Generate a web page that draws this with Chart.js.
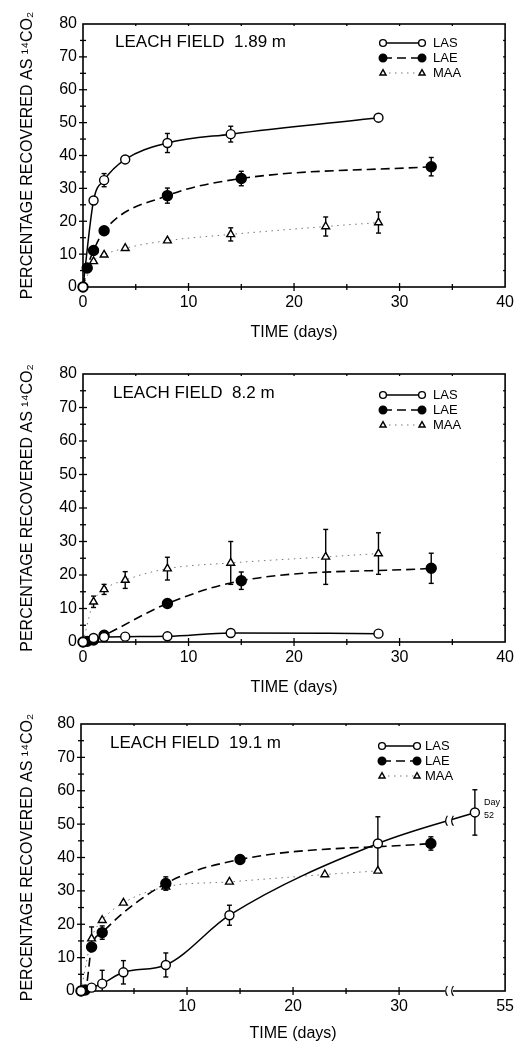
<!DOCTYPE html>
<html><head><meta charset="utf-8">
<script src="https://cdn.jsdelivr.net/npm/chart.js@4/dist/chart.umd.min.js"></script>
<style>
body{margin:0;background:#fff;width:520px;height:1044px;position:relative;overflow:hidden}
canvas{position:absolute;left:0}
</style></head>
<body>
<canvas id="c1" width="520" height="345" style="top:0px"></canvas>
<canvas id="c2" width="520" height="355" style="top:345px"></canvas>
<canvas id="c3" width="520" height="354" style="top:690px"></canvas>
<script>
// ---------- DATA ----------
const seriesNames = ['LAS', 'LAE', 'MAA'];
const yTitle = 'PERCENTAGE RECOVERED AS ¹⁴CO₂';
const xTitle = 'TIME (days)';
const panelTitles = ['LEACH FIELD  1.89 m', 'LEACH FIELD  8.2 m', 'LEACH FIELD  19.1 m'];

// Panel 1 — 1.89 m
const p1LasDays = [0, 1, 2, 4, 8, 14, 28];
const p1LasPct  = [0, 26.3, 32.5, 38.8, 43.8, 46.5, 51.5];
const p1LasErr  = [0, 0, 2, 0, 2.9, 2.4, 0];
const p1LaeDays = [0, 0.4, 1, 2, 8, 15, 33];
const p1LaePct  = [0, 5.8, 11.1, 17.1, 27.8, 33, 36.6];
const p1LaeErr  = [0, 0, 0, 0, 2.3, 2.2, 2.8];
const p1MaaDays = [0, 1, 2, 4, 8, 14, 23, 28];
const p1MaaPct  = [0, 7.8, 9.8, 11.8, 14.1, 16, 18.4, 19.6];
const p1MaaErr  = [0, 0, 0, 0, 0, 2, 2.9, 3.2];

// Panel 2 — 8.2 m
const p2LasDays = [0, 1, 2, 4, 8, 14, 28];
const p2LasPct  = [0, 1.2, 1.5, 1.6, 1.7, 2.7, 2.5];
const p2LasErr  = [0, 0, 0, 0, 0, 0, 0];
const p2LaeDays = [0, 0.4, 1, 2, 8, 15, 33];
const p2LaePct  = [0, 0.2, 0.6, 2.0, 11.5, 18.3, 22];
const p2LaeErr  = [0, 0, 0, 0, 0, 2.6, 4.5];
const p2MaaDays = [0, 1, 2, 4, 8, 14, 23, 28];
const p2MaaPct  = [0, 12, 15.7, 18.5, 21.9, 23.6, 25.4, 26.4];
const p2MaaErr  = [0, 1.7, 1.5, 2.5, 3.4, 6.4, 8.2, 6.2];

// Panel 3 — 19.1 m (x axis broken after day 35; last label is day 55)
const p3LasDays = [0, 1, 2, 4, 8, 14, 28, 52];
const p3LasPct  = [0, 1.0, 2.2, 5.6, 7.8, 22.7, 44.2, 53.5];
const p3LasErr  = [0, 0, 4, 3.5, 3.6, 3, 8, 6.8];
const p3LaeDays = [0, 0.4, 1, 2, 8, 15, 33];
const p3LaePct  = [0, 0.3, 13.2, 17.5, 32.2, 39.4, 44.2];
const p3LaeErr  = [0, 0, 0, 2, 2, 0, 2];
const p3MaaDays = [0, 1, 2, 4, 8, 14, 23, 28];
const p3MaaPct  = [0, 15.7, 21.2, 26.4, 31.2, 32.7, 34.9, 36];
const p3MaaErr  = [0, 3.5, 0, 0, 0, 0, 0, 0];

const xTickVals12 = [0, 10, 20, 30, 40];
const xTickText12 = ['0', '10', '20', '30', '40'];
const xTickVals3  = [0, 10, 20, 30, 40];
const xTickText3  = ['', '10', '20', '30', '55'];
const yTickVals   = [0, 10, 20, 30, 40, 50, 60, 70, 80];

// ---------- RENDERING ----------
const FONT = "'Liberation Sans', Arial, Helvetica, sans-serif";
// axis position for the broken axis of panel 3 (days beyond 35 compressed)
const p3Pos = d => d <= 35 ? d : 40 - (55 - d) * 0.95;
const p3BreakPos = 34.7;

const styles = {
  LAS: {borderColor:'#000', borderWidth:1.5, borderDash:[], pointStyle:'circle', pointRadius:4.5, pointBackgroundColor:'#fff', kind:'open'},
  LAE: {borderColor:'#000', borderWidth:1.6, borderDash:[9,5], pointStyle:'circle', pointRadius:5, pointBackgroundColor:'#000', kind:'filled'},
  MAA: {borderColor:'#777', borderWidth:1, borderDash:[1.5,4.5], pointStyle:'triangle', pointRadius:4.5, pointBackgroundColor:'#fff', kind:'tri'}
};

function drawMarker(ctx, kind, x, y, r) {
  ctx.save();
  ctx.setLineDash([]);
  ctx.lineWidth = 1.4; ctx.strokeStyle = '#000';
  ctx.beginPath();
  if (kind === 'tri') {
    ctx.moveTo(x, y - r); ctx.lineTo(x + r * 0.9, y + r * 0.6); ctx.lineTo(x - r * 0.9, y + r * 0.6); ctx.closePath();
    ctx.fillStyle = '#fff';
  } else {
    ctx.arc(x, y, r, 0, Math.PI * 2);
    ctx.fillStyle = kind === 'filled' ? '#000' : '#fff';
  }
  ctx.fill(); ctx.stroke(); ctx.restore();
}

function line(ctx, x1, y1, x2, y2) { ctx.beginPath(); ctx.moveTo(x1, y1); ctx.lineTo(x2, y2); ctx.stroke(); }

const panelPlugin = {
  id: 'panelDeco',
  beforeDatasetsDraw(chart) {
    const P = chart.config.options.plugins.panelDeco;
    const ctx = chart.ctx, a = chart.chartArea, xs = chart.scales.x, ys = chart.scales.y;
    ctx.save();
    ctx.strokeStyle = '#000'; ctx.setLineDash([]);
    // frame
    ctx.lineWidth = 1.6;
    ctx.strokeRect(a.left, a.top, a.right - a.left, a.bottom - a.top);
    // ticks crossing left & bottom axes, small inward ticks on top & right
    ctx.lineWidth = 1.3;
    for (let v = 5; v < 80; v += 5) {
      const py = ys.getPixelForValue(v), L = v % 10 === 0 ? 4 : 3;
      line(ctx, a.left - L, py, a.left + L, py);
      line(ctx, a.right - 2, py, a.right, py);
    }
    for (let v = 5; v < 40; v += 5) {
      if (P.broken && v === 35) continue;
      const px = xs.getPixelForValue(v), L = v % 10 === 0 ? 4 : 3;
      line(ctx, px, a.bottom - L, px, a.bottom + L);
      line(ctx, px, a.top, px, a.top + 2);
    }
    // error bars
    chart.data.datasets.forEach((ds, i) => {
      const meta = chart.getDatasetMeta(i);
      ds.errors.forEach((e, j) => {
        if (!e) return;
        const v = ds.data[j].y, px = meta.data[j].x;
        const yt = ys.getPixelForValue(v + e), yb = ys.getPixelForValue(Math.max(0, v - e));
        ctx.lineWidth = 1.4;
        line(ctx, px, yt, px, yb);
        line(ctx, px - 2.5, yt, px + 2.5, yt);
        if (v - e > 0) line(ctx, px - 2.5, yb, px + 2.5, yb);
      });
    });
    ctx.restore();
  },
  afterDatasetsDraw(chart) {
    const P = chart.config.options.plugins.panelDeco;
    const ctx = chart.ctx, a = chart.chartArea, xs = chart.scales.x, ys = chart.scales.y;
    ctx.save();
    // panel label
    ctx.fillStyle = '#000';
    ctx.font = '17px ' + FONT;
    ctx.textBaseline = 'middle'; ctx.textAlign = 'left';
    ctx.fillText(P.title, a.left + P.titleDx, a.top + P.titleDy);
    // legend
    chart.data.datasets.forEach((ds, i) => {
      const y = a.top + P.legDy + i * P.legStep;
      const x1 = a.left + P.legX1, x2 = a.left + P.legX2;
      ctx.strokeStyle = ds.borderColor; ctx.lineWidth = ds.borderWidth;
      ctx.setLineDash(ds.borderDash);
      line(ctx, x1, y, x2, y);
      ctx.setLineDash([]);
      drawMarker(ctx, ds.kind, x1, y, ds.kind === 'filled' ? 3.8 : 3.4);
      drawMarker(ctx, ds.kind, x2, y, ds.kind === 'filled' ? 3.8 : 3.4);
      ctx.fillStyle = '#000';
      ctx.font = '13px ' + FONT;
      ctx.fillText(ds.label, a.left + P.legTx, y + 0.5);
    });
    // axis break for panel 3
    if (P.broken) {
      const bx = xs.getPixelForValue(p3BreakPos);
      ctx.fillStyle = '#fff';
      ctx.fillRect(bx - 4, a.bottom - 2, 8, 4);
      ctx.strokeStyle = '#000'; ctx.lineWidth = 1.2;
      [-3, 3].forEach(dx => {
        ctx.beginPath();
        ctx.moveTo(bx + dx + 1.5, a.bottom - 5);
        ctx.quadraticCurveTo(bx + dx - 2, a.bottom, bx + dx + 1.5, a.bottom + 5);
        ctx.stroke();
      });
      // break on LAS curve between day 28 and day 52
      const meta = chart.getDatasetMeta(0), n = meta.data.length;
      const p0 = meta.data[n - 2], p1 = meta.data[n - 1];
      const t = (bx - p0.x) / (p1.x - p0.x), by = p0.y + t * (p1.y - p0.y);
      ctx.fillStyle = '#fff';
      ctx.fillRect(bx - 3, by - 3, 6, 6);
      [-3, 3].forEach(dx => {
        ctx.beginPath();
        ctx.moveTo(bx + dx + 1.5, by - 5);
        ctx.quadraticCurveTo(bx + dx - 2, by, bx + dx + 1.5, by + 5);
        ctx.stroke();
      });
      // "Day 52" note
      ctx.fillStyle = '#000';
      ctx.font = '9px ' + FONT;
      ctx.fillText('Day', p1.x + 9, p1.y - 10);
      ctx.fillText('52', p1.x + 9, p1.y + 3);
    }
    ctx.restore();
  }
};

function makePanel(id, P) {
  const font16 = {family: FONT, size: 16};
  const datasets = P.series.map(s => Object.assign({
    label: s.name,
    data: s.days.map((d, i) => ({x: P.pos(d), y: s.pct[i]})),
    errors: s.err,
    pointBorderColor: '#000', pointBorderWidth: 1.4,
    cubicInterpolationMode: 'monotone', fill: false, clip: false
  }, styles[s.name]));
  return new Chart(document.getElementById(id), {
    type: 'line',
    data: {datasets},
    options: {
      responsive: false, animation: false, events: [],
      layout: {padding: {top: P.padTop, right: P.padRight, left: 0, bottom: 0}},
      plugins: {legend: {display: false}, tooltip: {enabled: false}, panelDeco: P},
      scales: {
        x: {
          type: 'linear', min: 0, max: 40,
          afterFit: s => { s.height = P.xAxisH; },
          afterBuildTicks: s => { s.ticks = P.xTickVals.map(v => ({value: v})); },
          grid: {display: false, drawTicks: false}, border: {display: false},
          ticks: {padding: 6, font: font16, color: '#000', autoSkip: false, maxRotation: 0,
                  callback: v => P.xTickText[P.xTickVals.indexOf(v)]},
          title: {display: true, text: xTitle, font: font16, color: '#000', padding: {top: 0, bottom: P.xTitlePad}}
        },
        y: {
          min: 0, max: 80,
          afterFit: s => { s.width = P.yAxisW; },
          afterBuildTicks: s => { s.ticks = yTickVals.map(v => ({value: v})); },
          grid: {display: false, drawTicks: false}, border: {display: false},
          ticks: {padding: 6, font: font16, color: '#000'},
          title: {display: true, text: yTitle, font: font16, color: '#000', padding: {top: 18, bottom: 0}}
        }
      }
    },
    plugins: [panelPlugin]
  });
}

const common = {titleDx: 32, titleDy: 18, legStep: 15};
makePanel('c1', Object.assign({}, common, {
  title: panelTitles[0], pos: d => d, padTop: 24, padRight: 11, xAxisH: 58, xTitlePad: 3, yAxisW: 83,
  xTickVals: xTickVals12, xTickText: xTickText12,
  legDy: 19, legX1: 300, legX2: 339, legTx: 350,
  series: [
    {name: seriesNames[0], days: p1LasDays, pct: p1LasPct, err: p1LasErr},
    {name: seriesNames[1], days: p1LaeDays, pct: p1LaePct, err: p1LaeErr},
    {name: seriesNames[2], days: p1MaaDays, pct: p1MaaPct, err: p1MaaErr}
  ]
}));
makePanel('c2', Object.assign({}, common, {
  title: panelTitles[1], pos: d => d, padTop: 29, padRight: 11, xAxisH: 58, xTitlePad: 3, yAxisW: 83,
  xTickVals: xTickVals12, xTickText: xTickText12, titleDx: 30, titleDy: 19,
  legDy: 21, legX1: 300, legX2: 339, legTx: 350,
  series: [
    {name: seriesNames[0], days: p2LasDays, pct: p2LasPct, err: p2LasErr},
    {name: seriesNames[1], days: p2LaeDays, pct: p2LaePct, err: p2LaeErr},
    {name: seriesNames[2], days: p2MaaDays, pct: p2MaaPct, err: p2MaaErr}
  ]
}));
makePanel('c3', Object.assign({}, common, {
  title: panelTitles[2], pos: p3Pos, padTop: 34, padRight: 13, xAxisH: 53, xTitlePad: 1, yAxisW: 81,
  xTickVals: xTickVals3, xTickText: xTickText3, titleDx: 29, titleDy: 19, broken: true,
  legDy: 22, legX1: 301, legX2: 336, legTx: 344,
  series: [
    {name: seriesNames[0], days: p3LasDays, pct: p3LasPct, err: p3LasErr},
    {name: seriesNames[1], days: p3LaeDays, pct: p3LaeDays.length ? p3LaePct : [], err: p3LaeErr},
    {name: seriesNames[2], days: p3MaaDays, pct: p3MaaPct, err: p3MaaErr}
  ]
}));
</script>
</body></html>
